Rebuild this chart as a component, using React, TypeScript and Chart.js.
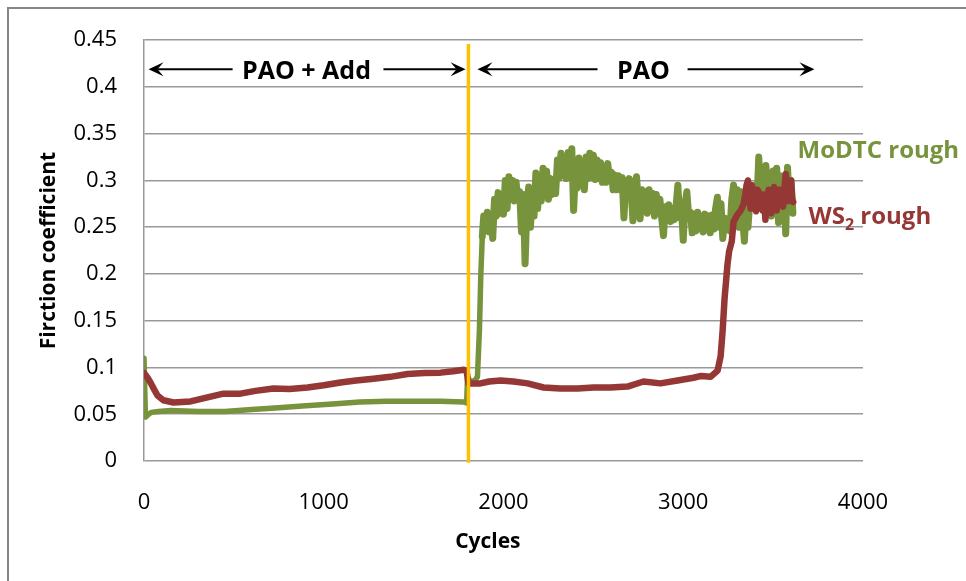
import React, { useEffect, useRef } from 'react';
import { Chart, registerables } from 'chart.js';

Chart.register(...registerables);

// ---- Data ----
const xTickValues = [0, 1000, 2000, 3000, 4000];
const xTickLabels = ['0', '1000', '2000', '3000', '4000'];
const yTickValues = [0, 0.05, 0.1, 0.15, 0.2, 0.25, 0.3, 0.35, 0.4, 0.45];
const yTickLabels = ['0', '0.05', '0.1', '0.15', '0.2', '0.25', '0.3', '0.35', '0.4', '0.45'];

const seriesNames = ['MoDTC rough', 'WS', '2', ' rough'];
const phaseLabels = ['PAO + Add', 'PAO'];
const xTitle = 'Cycles';
const yTitle = 'Firction coefficient';

// MoDTC rough (green)
const moCycles = [
  0, 8, 20, 40, 80, 150, 300, 450, 600, 750,
  900, 1050, 1200, 1350, 1500, 1650, 1780, 1795, 1800, 1815,
  1840, 1855, 1866, 1874, 1882,
  1890, 1900, 1910, 1920, 1930, 1940, 1950, 1960, 1970, 1980,
  1990, 2000, 2010, 2020, 2030, 2040, 2050, 2060, 2070, 2080,
  2090, 2100, 2110, 2120, 2130, 2140, 2150, 2160, 2170, 2180,
  2190, 2200, 2210, 2220, 2230, 2240, 2250, 2260, 2270, 2280,
  2290, 2300, 2310, 2320, 2330, 2340, 2350, 2360, 2370, 2380,
  2390, 2400, 2410, 2420, 2430, 2440, 2450, 2460, 2470, 2480,
  2490, 2500, 2510, 2520, 2530, 2540, 2550, 2560, 2570, 2580,
  2590, 2600, 2610, 2620, 2630, 2640, 2650, 2660, 2670, 2680,
  2690, 2700, 2710, 2720, 2730, 2740, 2750, 2760, 2770, 2780,
  2790, 2800, 2810, 2820, 2830, 2840, 2850, 2860, 2870, 2880,
  2890, 2900, 2910, 2920, 2930, 2940, 2950, 2960, 2970, 2980,
  2990, 3000, 3010, 3020, 3030, 3040, 3050, 3060, 3070, 3080,
  3090, 3100, 3110, 3120, 3130, 3140, 3150, 3160, 3170, 3180,
  3190, 3200, 3210, 3220, 3230, 3240, 3250, 3260, 3270, 3280,
  3290, 3300, 3310, 3320, 3330, 3340, 3350, 3360, 3370, 3380,
  3390, 3400, 3410, 3420, 3430, 3440, 3450, 3460, 3470, 3480,
  3490, 3500, 3510, 3520, 3530, 3540, 3550, 3560, 3570, 3580,
  3590, 3600, 3610,
];
const moFriction = [
  0.11, 0.047, 0.049, 0.052, 0.053, 0.054, 0.053, 0.053, 0.055, 0.057,
  0.059, 0.061, 0.063, 0.064, 0.064, 0.064, 0.063, 0.062, 0.09, 0.085,
  0.086, 0.09, 0.14, 0.2, 0.24,
  0.262, 0.25, 0.266, 0.245, 0.262, 0.238, 0.28, 0.262, 0.287, 0.265,
  0.285, 0.264, 0.3, 0.27, 0.304, 0.28, 0.3, 0.278, 0.298, 0.28,
  0.288, 0.245, 0.285, 0.211, 0.27, 0.293, 0.25, 0.29, 0.262, 0.308,
  0.27, 0.305, 0.278, 0.313, 0.285, 0.31, 0.28, 0.302, 0.285, 0.3,
  0.286, 0.322, 0.303, 0.329, 0.305, 0.325, 0.302, 0.33, 0.31, 0.334,
  0.268, 0.31, 0.292, 0.324, 0.295, 0.318, 0.29, 0.325, 0.302, 0.329,
  0.303, 0.327, 0.301, 0.322, 0.302, 0.319, 0.298, 0.315, 0.298, 0.318,
  0.3, 0.309, 0.29, 0.306, 0.29, 0.305, 0.29, 0.303, 0.26, 0.3,
  0.288, 0.302, 0.29, 0.257, 0.29, 0.304, 0.278, 0.259, 0.29, 0.268,
  0.288, 0.265, 0.29, 0.27, 0.286, 0.262, 0.285, 0.268, 0.28, 0.26,
  0.241, 0.272, 0.258, 0.274, 0.256, 0.27, 0.258, 0.272, 0.295, 0.26,
  0.27, 0.236, 0.275, 0.288, 0.262, 0.266, 0.244, 0.264, 0.246, 0.266,
  0.248, 0.262, 0.245, 0.264, 0.247, 0.262, 0.244, 0.263, 0.248, 0.27,
  0.282, 0.25, 0.275, 0.238, 0.26, 0.248, 0.258, 0.246, 0.28, 0.295,
  0.26, 0.29, 0.25, 0.288, 0.26, 0.235, 0.272, 0.25, 0.277, 0.295,
  0.27, 0.29, 0.275, 0.325, 0.285, 0.31, 0.272, 0.316, 0.28, 0.305,
  0.262, 0.31, 0.27, 0.313, 0.255, 0.305, 0.265, 0.3, 0.243, 0.314,
  0.275, 0.3, 0.265,
];

// WS2 rough (dark red)
const wsCycles = [
  0, 20, 36, 55, 75, 108, 164, 259, 353, 442,
  537, 620, 720, 810, 910, 1000, 1093, 1180, 1276, 1370,
  1466, 1560, 1650, 1720, 1778, 1795, 1805, 1816, 1872, 1920,
  1983, 2056, 2134, 2223, 2317, 2412, 2501, 2595, 2690, 2779,
  2873, 2968, 3057, 3100, 3152, 3191, 3208, 3219, 3230, 3246,
  3255, 3270, 3280, 3300, 3320,
  3336, 3345, 3352, 3360, 3368, 3375, 3382, 3390, 3398, 3405,
  3412, 3420, 3430, 3440, 3448, 3457, 3466, 3475, 3483, 3490,
  3498, 3505, 3512, 3520, 3530, 3540, 3548, 3555, 3562, 3570,
  3578, 3585, 3592, 3600, 3606, 3612,
];
const wsFriction = [
  0.094, 0.089, 0.084, 0.077, 0.07, 0.065, 0.0626, 0.0637, 0.068, 0.072,
  0.072, 0.075, 0.0775, 0.077, 0.0786, 0.081, 0.084, 0.086, 0.088, 0.09,
  0.093, 0.094, 0.0945, 0.096, 0.0976, 0.096, 0.083, 0.083, 0.083, 0.085,
  0.086, 0.085, 0.083, 0.0786, 0.0775, 0.0775, 0.0785, 0.0786, 0.0796, 0.085,
  0.083, 0.086, 0.089, 0.091, 0.09, 0.0966, 0.112, 0.139, 0.174, 0.21,
  0.224, 0.235, 0.256, 0.263, 0.268,
  0.275, 0.285, 0.295, 0.3, 0.28, 0.27, 0.295, 0.285, 0.275, 0.267,
  0.29, 0.288, 0.275, 0.268, 0.285, 0.258, 0.28, 0.29, 0.272, 0.265,
  0.285, 0.293, 0.275, 0.268, 0.29, 0.29, 0.278, 0.272, 0.29, 0.307,
  0.285, 0.278, 0.295, 0.3, 0.28, 0.277,
];

// Lubricant switch marker
const switchCycles = [1805, 1805];
const switchFriction = [-0.002, 0.446];

const GREEN = '#77933C';
const RED = '#953735';
const ORANGE = '#FFC000';
const GRID = '#999999';
const FONT = "'Open Sans', 'Noto Sans', sans-serif";

const toPoints = (xs: number[], ys: number[]) =>
  xs.slice(0, Math.min(xs.length, ys.length)).map((x, i) => ({ x, y: ys[i] }));

function drawArrow(ctx: CanvasRenderingContext2D, x1: number, x2: number, y: number, headAt: 'left' | 'right') {
  const L = 15;
  const W = 7;
  ctx.save();
  ctx.strokeStyle = '#000';
  ctx.fillStyle = '#000';
  ctx.lineWidth = 2;
  ctx.beginPath();
  if (headAt === 'left') {
    ctx.moveTo(x1 + L * 0.6, y);
    ctx.lineTo(x2, y);
  } else {
    ctx.moveTo(x1, y);
    ctx.lineTo(x2 - L * 0.6, y);
  }
  ctx.stroke();
  const tip = headAt === 'left' ? x1 : x2;
  const d = headAt === 'left' ? -1 : 1;
  ctx.beginPath();
  ctx.moveTo(tip, y);
  ctx.lineTo(tip - d * L, y - W);
  ctx.lineTo(tip - d * L * 0.6, y);
  ctx.lineTo(tip - d * L, y + W);
  ctx.closePath();
  ctx.fill();
  ctx.restore();
}

const decorPlugin = {
  id: 'decor',
  beforeDraw(chart: any) {
    const ctx: CanvasRenderingContext2D = chart.ctx;
    ctx.save();
    ctx.fillStyle = '#fff';
    ctx.fillRect(0, 0, chart.width, chart.height);
    ctx.strokeStyle = '#868686';
    ctx.lineWidth = 2;
    ctx.strokeRect(8, 8, chart.width + 40, chart.height + 40);
    ctx.restore();
  },
  afterDatasetsDraw(chart: any) {
    const ctx: CanvasRenderingContext2D = chart.ctx;
    const xs = chart.scales.x;
    const ys = chart.scales.y;
    const px = (v: number) => xs.getPixelForValue(v);
    const py = (v: number) => ys.getPixelForValue(v);

    // phase arrows
    const arrowY = py(0.419);
    const phases = [
      { label: phaseLabels[0], l1: 25, l2: 493, t: 904, r1: 1332, r2: 1789 },
      { label: phaseLabels[1], l1: 1855, l2: 2523, t: 2779, r1: 3024, r2: 3730 },
    ];
    ctx.save();
    ctx.font = `bold 25px ${FONT}`;
    ctx.fillStyle = '#000';
    ctx.textAlign = 'center';
    ctx.textBaseline = 'alphabetic';
    for (const p of phases) {
      drawArrow(ctx, px(p.l1), px(p.l2), arrowY, 'left');
      drawArrow(ctx, px(p.r1), px(p.r2), arrowY, 'right');
      ctx.fillText(p.label, px(p.t), arrowY + 10);
    }
    ctx.restore();

    // series labels
    ctx.save();
    ctx.textAlign = 'left';
    ctx.textBaseline = 'alphabetic';
    ctx.font = `bold 24px ${FONT}`;
    ctx.fillStyle = GREEN;
    ctx.fillText(seriesNames[0], px(3636), py(0.324));
    ctx.fillStyle = RED;
    let x = px(3697);
    const by = py(0.2537);
    ctx.fillText(seriesNames[1], x, by);
    x += ctx.measureText(seriesNames[1]).width;
    ctx.font = `bold 16px ${FONT}`;
    ctx.fillText(seriesNames[2], x, by + 6);
    x += ctx.measureText(seriesNames[2]).width;
    ctx.font = `bold 24px ${FONT}`;
    ctx.fillText(seriesNames[3], x, by);
    ctx.restore();

    // x axis title
    ctx.save();
    ctx.font = `bold 21px ${FONT}`;
    ctx.fillStyle = '#000';
    ctx.textAlign = 'center';
    ctx.textBaseline = 'alphabetic';
    ctx.fillText(xTitle, px(1913), 548);
    ctx.restore();
  },
};

export default function App() {
  const ref = useRef<HTMLCanvasElement>(null);

  useEffect(() => {
    const canvas = ref.current;
    if (!canvas) return;
    const chart = new Chart(canvas, {
      type: 'line',
      data: {
        datasets: [
          {
            label: 'switch',
            data: toPoints(switchCycles, switchFriction),
            borderColor: ORANGE,
            borderWidth: 3.5,
            pointRadius: 0,
            clip: false as any,
          },
          {
            label: 'WS2 rough',
            data: toPoints(wsCycles, wsFriction),
            borderColor: RED,
            borderWidth: 6.5,
            pointRadius: 0,
            tension: 0,
            borderJoinStyle: 'round',
            borderCapStyle: 'round',
          },
          {
            label: 'MoDTC rough',
            data: toPoints(moCycles, moFriction),
            borderColor: GREEN,
            borderWidth: 5.5,
            pointRadius: 0,
            tension: 0,
            borderJoinStyle: 'round',
            borderCapStyle: 'round',
            segment: {
              borderWidth: (c: any) => (c.p0.parsed.x >= 1882 ? 7 : 5.5),
            },
          } as any,
        ],
      },
      options: {
        responsive: false,
        animation: false,
        events: [],
        layout: { padding: { left: 0, right: 103, top: 37, bottom: 0 } },
        plugins: {
          legend: { display: false },
          tooltip: { enabled: false },
        },
        scales: {
          x: {
            type: 'linear',
            min: 0,
            max: 4000,
            afterBuildTicks: (scale: any) => {
              scale.ticks = xTickValues.map((v) => ({ value: v }));
            },
            afterFit: (scale: any) => {
              scale.height = 120;
            },
            ticks: {
              padding: 21,
              color: '#000',
              font: { family: FONT, size: 22 },
              maxRotation: 0,
              callback: (_v: any, i: number) => xTickLabels[i],
            },
            grid: { display: false },
            border: { display: false },
          },
          y: {
            type: 'linear',
            min: 0,
            max: 0.45,
            afterBuildTicks: (scale: any) => {
              scale.ticks = yTickValues.map((v) => ({ value: v }));
            },
            afterFit: (scale: any) => {
              scale.width = 144;
            },
            ticks: {
              padding: 27,
              color: '#000',
              font: { family: FONT, size: 22 },
              callback: (_v: any, i: number) => yTickLabels[i],
            },
            grid: { color: GRID, lineWidth: 1.5, drawTicks: false },
            border: { display: true, color: GRID, width: 1.5 },
            title: {
              display: true,
              text: yTitle,
              color: '#000',
              font: { family: FONT, size: 21, weight: 'bold' },
              padding: { top: 36, bottom: 0 },
            },
          },
        },
      },
      plugins: [decorPlugin],
    });
    return () => chart.destroy();
  }, []);

  return (
    <div style={{ position: 'absolute', left: 0, top: 0, width: 966, height: 581, background: '#fff' }}>
      <canvas ref={ref} width={966} height={581} style={{ width: 966, height: 581, display: 'block' }} />
    </div>
  );
}
